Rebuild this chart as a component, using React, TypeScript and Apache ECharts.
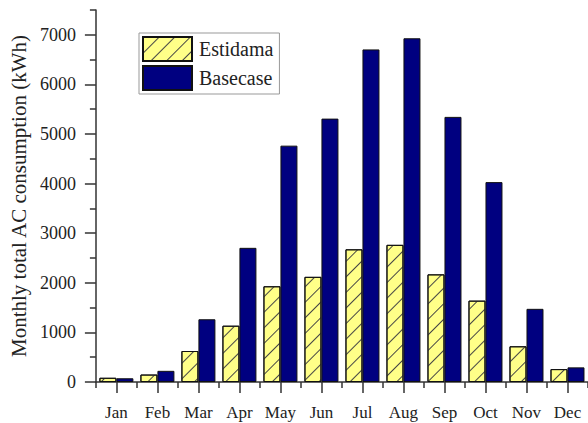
import React, { useEffect, useRef } from "react";
import * as echarts from "echarts";

const months = ["Jan", "Feb", "Mar", "Apr", "May", "Jun", "Jul", "Aug", "Sep", "Oct", "Nov", "Dec"];
const estidama = [85, 150, 625, 1135, 1930, 2120, 2675, 2765, 2170, 1640, 720, 260];
const basecase = [75, 225, 1265, 2705, 4765, 5310, 6705, 6930, 5345, 4030, 1475, 295];
const majorYTicks = [0, 1000, 2000, 3000, 4000, 5000, 6000, 7000];
const minorYTicks = [500, 1500, 2500, 3500, 4500, 5500, 6500, 7500];
const yMax = 7500;

const FONT = "'Liberation Serif', 'Times New Roman', serif";

export default function App() {
  const ref = useRef<HTMLDivElement>(null);
  useEffect(() => {
    const chart = echarts.init(ref.current!, null, { renderer: "svg" });
    const axisLineStyle = { color: "#333", width: 1.5 };
    chart.setOption({
      animation: false,
      backgroundColor: "#fff",
      grid: { left: 93, top: 10, right: 0, bottom: 41, containLabel: false },
      legend: {
        orient: "vertical",
        left: 139,
        top: 33,
        padding: [3, 6, 3, 3],
        itemGap: 3,
        itemWidth: 49,
        itemHeight: 24,
        borderColor: "#999",
        borderWidth: 1,
        icon: "rect",
        textStyle: { fontFamily: FONT, fontSize: 20, color: "#222", padding: [0, 0, 0, 2] },
        data: ["Estidama", "Basecase"],
      },
      xAxis: [
        {
          type: "category",
          data: months,
          axisLine: { show: true, lineStyle: axisLineStyle },
          axisTick: { show: true, alignWithLabel: true, length: 11, lineStyle: axisLineStyle },
          axisLabel: { fontFamily: FONT, fontSize: 17, color: "#222", margin: 22, interval: 0 },
          splitLine: { show: false },
        },
        {
          type: "category",
          data: months,
          position: "bottom",
          axisLine: { show: false },
          axisTick: { show: true, alignWithLabel: false, interval: 0, length: 6, lineStyle: axisLineStyle },
          axisLabel: { show: false },
          splitLine: { show: false },
        },
      ],
      yAxis: [
        {
          type: "value",
          min: 0,
          max: yMax,
          interval: 500,
          name: "Monthly total AC consumption (kWh)",
          nameLocation: "middle",
          nameGap: 60,
          nameTextStyle: { fontFamily: FONT, fontSize: 21, color: "#222" },
          axisLine: { show: true, lineStyle: axisLineStyle },
          axisTick: { show: true, length: 11, customValues: majorYTicks, lineStyle: axisLineStyle },
          axisLabel: {
            fontFamily: FONT,
            fontSize: 18,
            color: "#222",
            margin: 20,
            customValues: majorYTicks,
            formatter: (v: number) => String(v),
          },
          splitLine: { show: false },
        },
        {
          type: "value",
          min: 0,
          max: yMax,
          interval: 500,
          position: "left",
          axisLine: { show: false },
          axisTick: { show: true, length: 6, customValues: minorYTicks, lineStyle: axisLineStyle },
          axisLabel: { show: false },
          splitLine: { show: false },
        },
      ],
      series: [
        {
          name: "Estidama",
          type: "bar",
          xAxisIndex: 0,
          yAxisIndex: 0,
          data: estidama,
          barWidth: 17,
          barGap: "0%",
          itemStyle: {
            color: "#FFFF88",
            borderColor: "#111",
            borderWidth: 1,
            decal: {
              symbol: "rect",
              symbolSize: 1,
              dashArrayX: [1, 0],
              dashArrayY: [1, 10],
              rotation: -Math.PI / 4,
              color: "#444",
            },
          },
        },
        {
          name: "Basecase",
          type: "bar",
          xAxisIndex: 0,
          yAxisIndex: 0,
          data: basecase,
          barWidth: 17,
          barGap: "0%",
          itemStyle: { color: "#000080", borderColor: "#111", borderWidth: 1 },
        },
      ],
    });
    return () => chart.dispose();
  }, []);
  return <div ref={ref} style={{ position: "fixed", left: 0, top: 0, width: 588, height: 423 }} />;
}
